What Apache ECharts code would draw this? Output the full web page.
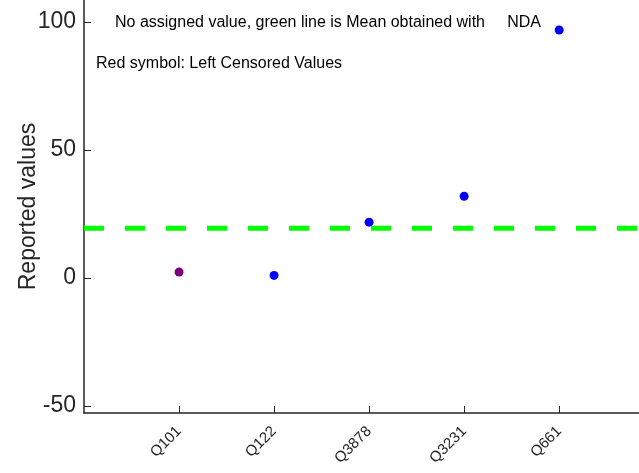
<!DOCTYPE html>
<html>
<head>
<meta charset="utf-8">
<script src="https://cdn.jsdelivr.net/npm/echarts@6/dist/echarts.min.js"></script>
<style>
  html, body { margin: 0; padding: 0; background: #fff; }
  #el { width: 639px; height: 473px; }
</style>
</head>
<body>
<div id="el"></div>
<script>
// labs in plotting order
const labs = ['Q101', 'Q122', 'Q3878', 'Q3231', 'Q661'];
const reported = [2.3, 1.0, 21.8, 31.9, 96.8];
// left censored flag (drawn purple: red symbol under blue)
const censored = [true, false, false, false, false];
const meanNDA = 19.4;
const yTicks = [-50, 0, 50, 100];

const font = '"Liberation Sans", Arial, sans-serif';
const ink = '#262626';

let normalPts = [];
let censPts = [];
labs.forEach((l, i) => {
  if (censored[i]) censPts.push([i + 1, reported[i]]);
  else normalPts.push([i + 1, reported[i]]);
});

let option = {
  animation: false,
  grid: { left: 84, right: 0, top: 0, bottom: 60, outerBoundsMode: 'none', containLabel: false },
  xAxis: {
    type: 'value',
    min: 0,
    max: 5.84,
    splitLine: { show: false },
    axisLine: { onZero: false, lineStyle: { color: ink, width: 1.5 } },
    axisTick: {
      inside: true, length: 7,
      lineStyle: { color: ink, width: 1 },
      customValues: labs.map((l, i) => i + 1)
    },
    axisLabel: {
      customValues: labs.map((l, i) => i + 1),
      formatter: (v) => labs[Math.round(v) - 1] || '',
      rotate: 45,
      margin: 16,
      color: ink,
      fontFamily: font,
      fontSize: 15
    }
  },
  yAxis: {
    type: 'value',
    min: -52.7,
    max: 108.5,
    name: 'Reported values',
    nameLocation: 'middle',
    nameGap: 44,
    nameMoveOverlap: false,
    nameTextStyle: { color: ink, fontFamily: font, fontSize: 23 },
    splitLine: { show: false },
    axisLine: { show: true, onZero: false, lineStyle: { color: ink, width: 1.5 } },
    axisTick: {
      show: true, inside: true, length: 7,
      lineStyle: { color: ink, width: 1 },
      customValues: yTicks
    },
    axisLabel: {
      customValues: yTicks,
      margin: 8,
      color: ink,
      fontFamily: font,
      fontSize: 23
    }
  },
  graphic: [
    {
      type: 'text', left: 115, top: 15,
      style: {
        text: 'No assigned value, green line is Mean obtained with     NDA',
        fill: '#000', font: '16px ' + font
      }
    },
    {
      type: 'text', left: 96, top: 56,
      style: {
        text: 'Red symbol: Left Censored Values',
        fill: '#000', font: '16px ' + font
      }
    }
  ],
  series: [
    {
      type: 'line',
      data: [[0, meanNDA], [labs.length + 1, meanNDA]],
      symbol: 'none',
      lineStyle: { color: '#00ff00', width: 5, type: [20, 21] },
      z: 1
    },
    {
      type: 'scatter',
      data: normalPts,
      symbolSize: 9,
      itemStyle: { color: '#0000ff', opacity: 1 },
      z: 3
    },
    {
      type: 'scatter',
      data: censPts,
      symbolSize: 9,
      itemStyle: { color: '#7a007a', opacity: 1 },
      z: 3
    }
  ]
};

let myChart = echarts.init(document.getElementById('el'));
option && myChart.setOption(option);
</script>
</body>
</html>
